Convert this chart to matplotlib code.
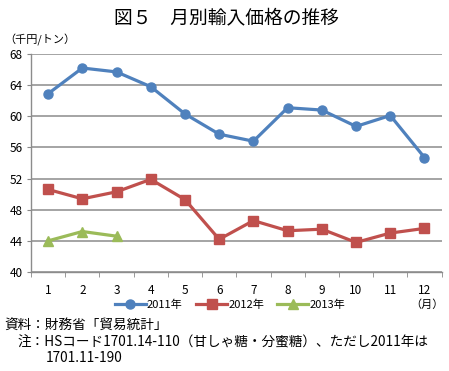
import matplotlib
matplotlib.use('Agg')
import matplotlib.pyplot as plt
import numpy as np

plt.rcParams['font.family'] = ['Noto Sans CJK JP', 'DejaVu Sans']

months = list(range(1, 13))
month_labels = [str(m) for m in months]
price_2011 = [62.9, 66.2, 65.7, 63.8, 60.3, 57.7, 56.8, 61.1, 60.8, 58.7, 60.1, 54.7]
price_2012 = [50.6, 49.4, 50.3, 51.9, 49.3, 44.2, 46.6, 45.3, 45.5, 43.8, 45.0, 45.6]
price_2013 = [44.0, 45.2, 44.6]
yticks = [40, 44, 48, 52, 56, 60, 64, 68]

series = [('2011年', price_2011, '#4F81BD', 'o'),
          ('2012年', price_2012, '#C0504D', 's'),
          ('2013年', price_2013, '#9BBB59', '^')]

W, H = 449, 371
fig = plt.figure(figsize=(W / 100, H / 100), dpi=100)
ax = fig.add_axes([31 / W, 1 - 272 / H, (441.6 - 31) / W, (272 - 54) / H])

handles = []
for name, vals, col, mk in series:
    h, = ax.plot(months[:len(vals)], vals, color=col, lw=2.3, marker=mk,
                 markersize=6.5, markeredgecolor=col, label=name, zorder=3)
    handles.append(h)

ax.set_xlim(0.5, 12.5)
ax.set_ylim(40, 68)
ax.set_yticks(yticks)
ax.set_xticks(months)
ax.set_xticklabels(month_labels)
ax.set_xticks(np.arange(0.5, 13, 1), minor=True)
ax.tick_params(axis='x', which='major', length=0, pad=9, labelsize=8.5)
ax.tick_params(axis='x', which='minor', length=3.5, direction='out', color='#888888')
ax.tick_params(axis='y', length=3, color='#888888', labelsize=8.5, pad=3)
ax.grid(axis='y', color='#8c8c8c', lw=1.1, zorder=0)
for s in ['top', 'right']:
    ax.spines[s].set_visible(False)
for s in ['left', 'bottom']:
    ax.spines[s].set_color('#8c8c8c')
    ax.spines[s].set_linewidth(1.0)

fig.text(226 / W, 1 - 18 / H, '図５　月別輸入価格の推移', ha='center', va='center', fontsize=13.5)
fig.text(4 / W, 1 - 40 / H, '（千円/トン）', ha='left', va='center', fontsize=8)

fig.legend(handles=handles, loc='center', bbox_to_anchor=(230 / W, 1 - 305 / H), ncol=3,
           frameon=False, fontsize=8, handlelength=2.8, columnspacing=1.2, handletextpad=0.1,
           borderaxespad=0)
fig.text(427 / W, 1 - 305 / H, '（月）', ha='center', va='center', fontsize=8)

fig.text(4 / W, 1 - 325 / H, '資料：財務省「貿易統計」', ha='left', va='center', fontsize=9.8)
fig.text(18 / W, 1 - 342 / H, '注：HSコード1701.14-110（甘しゃ糖・分蜜糖）、ただし2011年は',
         ha='left', va='center', fontsize=9.8)
fig.text(46 / W, 1 - 358 / H, '1701.11-190', ha='left', va='center', fontsize=9.8)

fig.savefig('out.png', dpi=100)
